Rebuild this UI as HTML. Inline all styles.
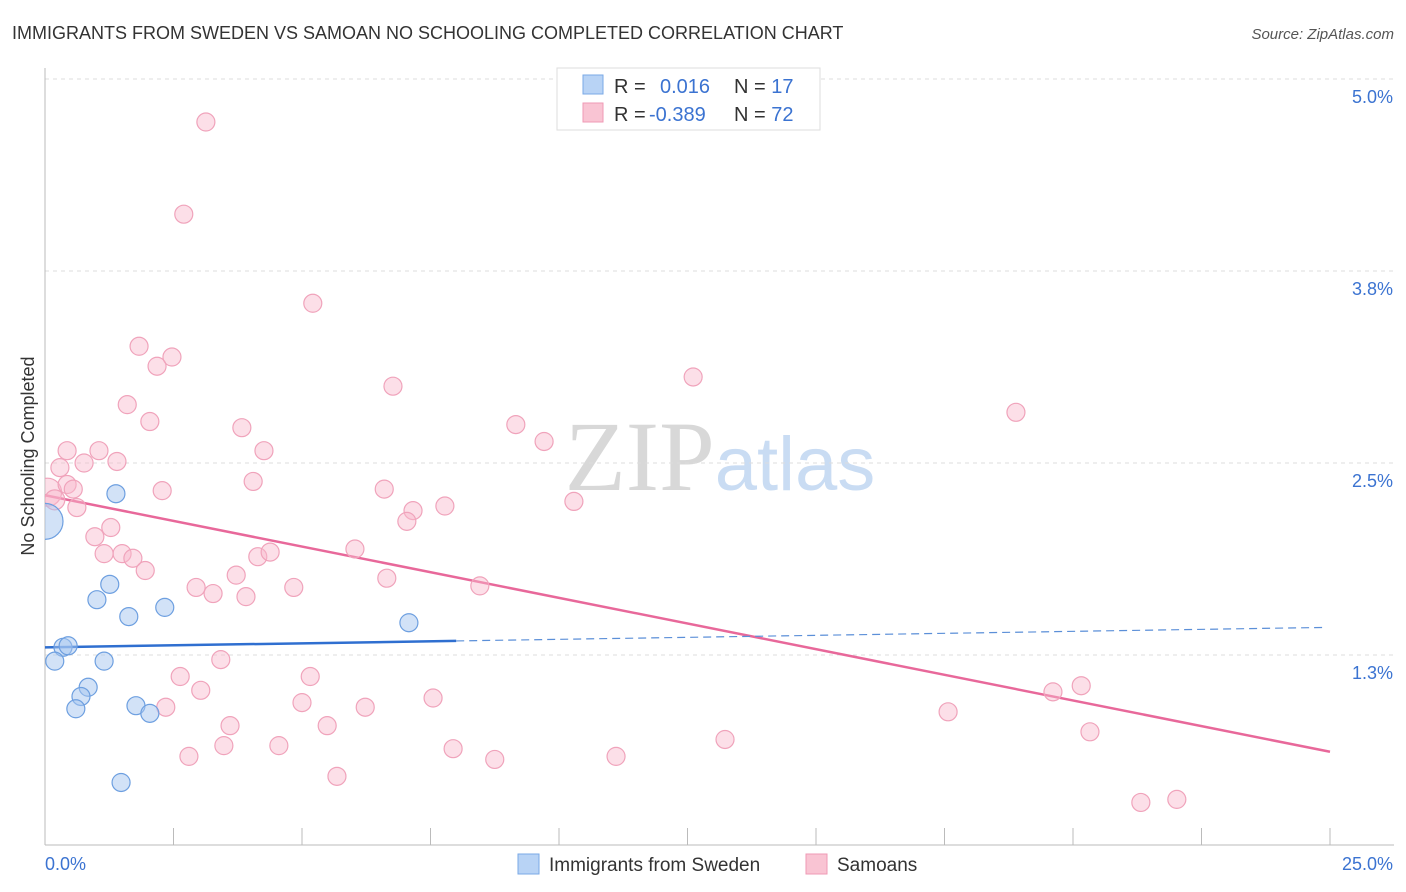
<!DOCTYPE html>
<html><head><meta charset="utf-8"><style>
body{margin:0;background:#fff;font-family:"Liberation Sans",sans-serif;}
</style></head><body>
<svg id="chart" width="1406" height="892" xmlns="http://www.w3.org/2000/svg" style="display:block">
<defs><clipPath id="plotclip"><rect x="45" y="60" width="1360" height="790"/></clipPath></defs>
<text x="12" y="39" font-size="18" fill="#333">IMMIGRANTS FROM SWEDEN VS SAMOAN NO SCHOOLING COMPLETED CORRELATION CHART</text>
<text x="1394" y="39" font-size="15" fill="#555" font-style="italic" text-anchor="end">Source: ZipAtlas.com</text>
<text x="720" y="490" font-size="100" font-family="Liberation Serif,serif" fill="#d8d8d8" text-anchor="middle">ZIP<tspan fill="#c9dcf3" font-family="Liberation Sans,sans-serif" font-size="76">atlas</tspan></text>
<text transform="translate(34,456) rotate(-90)" font-size="18" fill="#333" text-anchor="middle">No Schooling Completed</text>
<g id="grid"></g><g id="axes"></g><g id="lines"></g><g id="pts" clip-path="url(#plotclip)"></g>
<g>
<rect x="557" y="68" width="263" height="62" fill="#fff" stroke="#ddd"/>
<rect x="583" y="75" width="20" height="19" fill="#b8d3f5" stroke="#7aa8e6"/>
<rect x="583" y="103" width="20" height="19" fill="#f9c4d3" stroke="#ef9ab5"/>
<text x="614" y="93" font-size="20" fill="#333">R = <tspan fill="#3b73d1" x="660">0.016</tspan><tspan x="734" fill="#333">N = </tspan><tspan fill="#3b73d1">17</tspan></text>
<text x="614" y="121" font-size="20" fill="#333">R = <tspan fill="#3b73d1" x="649">-0.389</tspan><tspan x="734" fill="#333">N = </tspan><tspan fill="#3b73d1">72</tspan></text>
</g>
<g>
<rect x="518" y="854" width="21" height="20" fill="#b8d3f5" stroke="#7aa8e6"/>
<text x="549" y="871" font-size="19" fill="#333">Immigrants from Sweden</text>
<rect x="806" y="854" width="21" height="20" fill="#f9c4d3" stroke="#ef9ab5"/>
<text x="837" y="871" font-size="19" fill="#333">Samoans</text>
</g>
</svg>
<script>
const yTicks=[1.25,2.5,3.75,5.0];
const yTickLabels=["1.3%","2.5%","3.8%","5.0%"];
const xTickLabels=["0.0%","25.0%"];
const swedenX=[0,1.38,1.26,1.01,1.63,2.33,7.08,0.35,0.45,0.19,1.15,0.84,0.70,0.60,1.77,2.04,1.48];
const swedenY=[2.12,2.30,1.71,1.61,1.50,1.56,1.46,1.30,1.31,1.21,1.21,1.04,0.98,0.90,0.92,0.87,0.42];
const swedenR=[18,9,9,9,9,9,9,9,9,9,9,9,9,9,9,9,9];
const samoanX=[3.13,2.70,5.21,1.83,2.47,2.18,6.77,12.61,1.60,2.04,18.89,3.83,9.16,9.71,0.43,1.05,4.26,0.29,0.76,1.40,4.05,2.28,6.60,10.29,7.78,7.16,7.04,0.62,1.28,0.97,1.15,1.50,1.71,1.95,4.14,4.38,6.03,3.72,6.65,2.94,3.27,3.91,4.84,8.46,3.42,2.63,5.16,3.03,5.00,7.55,6.23,2.35,19.61,20.16,17.57,3.60,5.49,3.48,4.55,7.94,2.80,8.75,11.11,13.23,20.33,5.68,21.32,22.02,0.05,0.19,0.43,0.55];
const samoanY=[4.72,4.12,3.54,3.26,3.19,3.13,3.00,3.06,2.88,2.77,2.83,2.73,2.75,2.64,2.58,2.58,2.58,2.47,2.50,2.51,2.38,2.32,2.33,2.25,2.22,2.19,2.12,2.21,2.08,2.02,1.91,1.91,1.88,1.80,1.89,1.92,1.94,1.77,1.75,1.69,1.65,1.63,1.69,1.70,1.22,1.11,1.11,1.02,0.94,0.97,0.91,0.91,1.01,1.05,0.88,0.79,0.79,0.66,0.66,0.64,0.59,0.57,0.59,0.70,0.75,0.46,0.29,0.31,2.31,2.26,2.36,2.33];
const samoanR=[9,9,9,9,9,9,9,9,9,9,9,9,9,9,9,9,9,9,9,9,9,9,9,9,9,9,9,9,9,9,9,9,9,9,9,9,9,9,9,9,9,9,9,9,9,9,9,9,9,9,9,9,9,9,9,9,9,9,9,9,9,9,9,9,9,9,9,9,14,10,9,9];
const swedenTrend=[1.30,1.43];
const samoanTrend=[2.29,0.62];
const swedenSolidEnd=8.0;
const X0=45,X1=1330,Y0=847,PXPER=192/1.25;
const sx=v=>X0+v/25*(X1-X0), sy=v=>Y0-v*PXPER;
const NS="http://www.w3.org/2000/svg";
function mk(tag,attrs,parent){const e=document.createElementNS(NS,tag);for(const k in attrs)e.setAttribute(k,attrs[k]);document.getElementById(parent).appendChild(e);return e;}
yTicks.forEach((t,i)=>{
 const g=mk('line',{x1:X0,x2:1394,y1:sy(t),y2:sy(t),stroke:'#ddd','stroke-dasharray':'4,4'},'grid');
 
 
 const l=mk('text',{x:1393,y:sy(t)+24,'font-size':18,fill:'#3b73d1','text-anchor':'end'},'axes');
 l.textContent=yTickLabels[i];
 
 
});
const ya=mk('line',{x1:X0,x2:X0,y1:68,y2:845,stroke:'#bbb'},'axes');


const xa=mk('line',{x1:X0,x2:1394,y1:845,y2:845,stroke:'#bbb'},'axes');


for(let i=1;i<=10;i++){const t=mk('line',{x1:sx(i*2.5),x2:sx(i*2.5),y1:828,y2:845,stroke:'#bbb'},'axes');
 
 }
[[0,'start',X0],[1,'end',1393]].forEach(([i,a,x])=>{const t=mk('text',{x:x,y:870,'font-size':18,fill:'#3b73d1','text-anchor':a},'axes');t.textContent=xTickLabels[i];
 
 });
samoanX.forEach((x,i)=>{const c=mk('circle',{cx:sx(x),cy:sy(samoanY[i]),r:samoanR[i],fill:'rgba(248,185,205,0.45)',stroke:'#f0a3bb','stroke-width':1.2},'pts');
 
 });
swedenX.forEach((x,i)=>{const c=mk('circle',{cx:sx(x),cy:sy(swedenY[i]),r:swedenR[i],fill:'rgba(165,198,240,0.5)',stroke:'#6d9fe0','stroke-width':1.2},'pts');
 
 });
const by=v=>swedenTrend[0]+(swedenTrend[1]-swedenTrend[0])*v/25;
const pl=mk('line',{x1:sx(0),y1:sy(samoanTrend[0]),x2:sx(25),y2:sy(samoanTrend[1]),stroke:'#e8689a','stroke-width':2.5},'lines');


const bl=mk('line',{x1:sx(0),y1:sy(by(0)),x2:sx(swedenSolidEnd),y2:sy(by(swedenSolidEnd)),stroke:'#2f6fd0','stroke-width':2.5},'lines');


const bd=mk('line',{x1:sx(swedenSolidEnd),y1:sy(by(swedenSolidEnd)),x2:sx(24.9),y2:sy(by(24.9)),stroke:'#5b8fd8','stroke-width':1.2,'stroke-dasharray':'8,5'},'lines');


</script>
</body></html>
